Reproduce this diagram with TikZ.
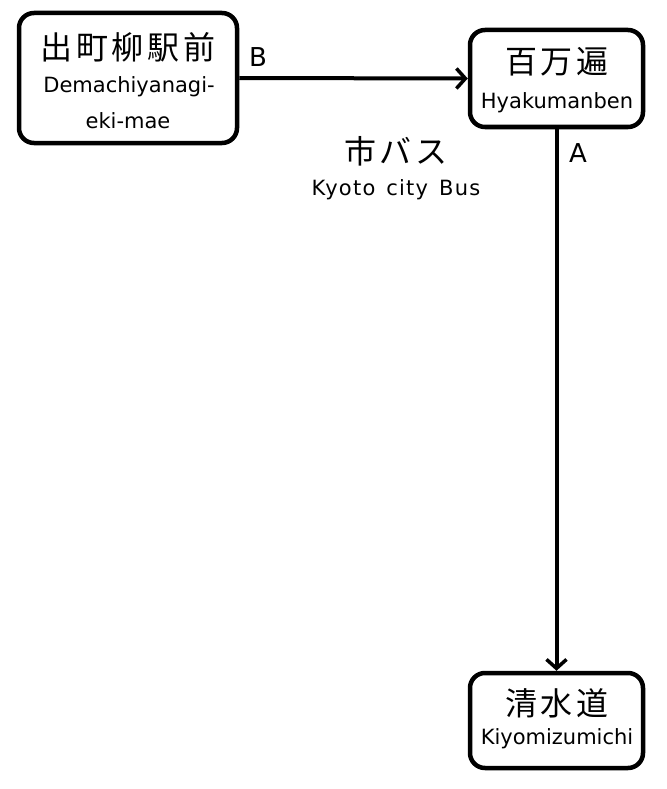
\documentclass[tikz,border=0pt]{standalone}
\usepackage{fontspec}
\setmainfont{DejaVu Sans}
\newfontfamily\jp[LetterSpace=12]{Noto Sans CJK JP}
\newfontfamily\enwide[LetterSpace=6]{DejaVu Sans}
\usetikzlibrary{arrows.meta}
\tikzset{
  stbox/.style={draw, line width=4.5pt, rounded corners=15pt, inner sep=0pt},
  jptext/.style={inner sep=0pt, font=\jp\fontsize{32}{32}\selectfont},
  entext/.style={inner sep=0pt, font=\fontsize{21}{21}\selectfont},
  conn/.style={line width=4pt, -{Straight Barb[length=9pt,width=20pt,line width=3.5pt]}},
  lbl/.style={inner sep=0pt, font=\fontsize{26}{26}\selectfont}
}
\begin{document}
\begin{tikzpicture}[x=1pt,y=-1pt]
\useasboundingbox (0,0) rectangle (666,789);
\node[stbox, minimum width=218pt, minimum height=130pt] (demachi) at (128,78) {};
\node[stbox, minimum width=173pt, minimum height=97pt] (hyaku) at (556.5,78.5) {};
\node[stbox, minimum width=173pt, minimum height=95pt] (kiyo) at (556.5,720.5) {};
\node[jptext] (d1) at (128,47) {出町柳駅前};
\node[entext] (d2) at (129,87) {Demachiyanagi-};
\node[entext] (d3) at (128,121) {eki-mae};
\node[jptext] (h1) at (557,62) {百万遍};
\node[entext] (h2) at (557,103) {Hyakumanben};
\node[jptext] (k1) at (557,703) {清水道};
\node[entext] (k2) at (557,739) {Kiyomizumichi};
\node[jptext] (bus1) at (396,151) {市バス};
\node[inner sep=0pt, font=\enwide\fontsize{21}{21}\selectfont] (bus2) at (396,190) {Kyoto\hspace{3pt} city\hspace{3pt} Bus};
\draw[conn] (demachi.east) -- (hyaku.west);
\draw[conn] (hyaku.south) -- (kiyo.north);
\node[lbl] (lb) at (258,57) {B};
\node[lbl] (la) at (578,153) {A};
\end{tikzpicture}
\end{document}
